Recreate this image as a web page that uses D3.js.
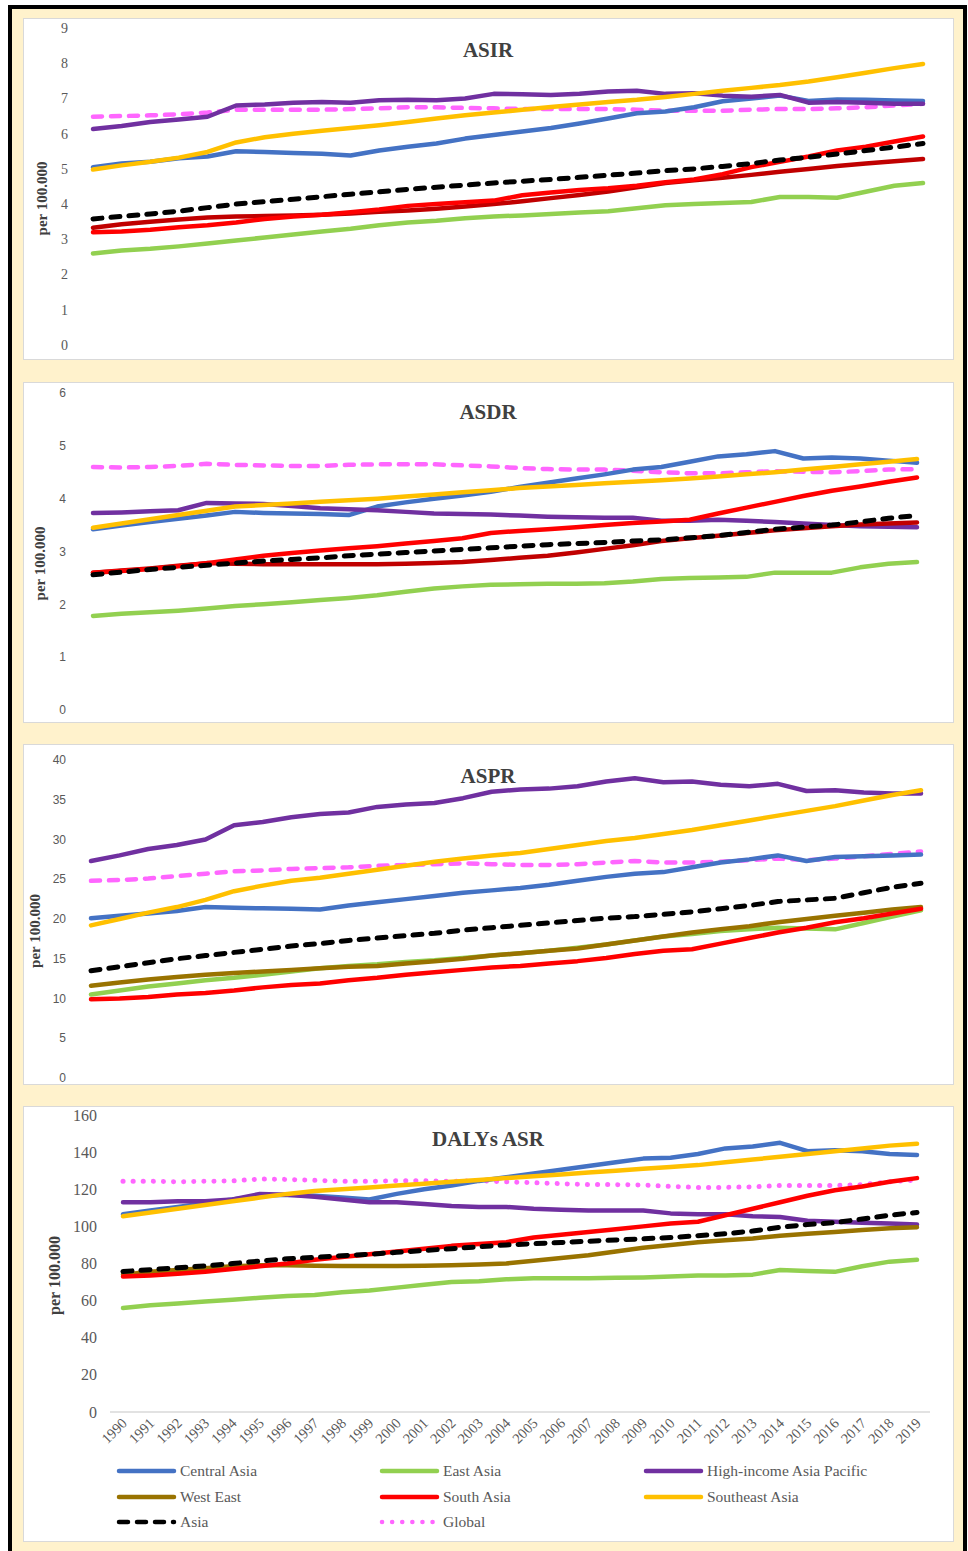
<!DOCTYPE html>
<html>
<head>
<meta charset="utf-8">
<script src="https://cdn.jsdelivr.net/npm/d3@7"></script>
<style>
  body { margin: 0; background: #fff; }
  text { fill: #595959; }
</style>
</head>
<body>
<div id="chart"></div>
<script>
// years on x axis
const years = d3.range(1990, 2020);
const seriesNames = ["Central Asia", "East Asia", "High-income Asia Pacific", "West East", "South Asia", "Southeast Asia", "Asia", "Global"];

// ASIR
const asir = {
  "Central Asia": [5.05,5.15,5.2,5.3,5.35,5.5,5.48,5.45,5.43,5.38,5.52,5.63,5.72,5.86,5.96,6.06,6.16,6.29,6.43,6.58,6.63,6.75,6.92,7.0,7.08,6.93,6.97,6.96,6.94,6.93],
  "East Asia": [2.6,2.68,2.73,2.8,2.88,2.97,3.05,3.14,3.22,3.3,3.4,3.48,3.53,3.6,3.65,3.68,3.72,3.76,3.8,3.88,3.97,4.0,4.03,4.06,4.2,4.2,4.18,4.35,4.52,4.6],
  "High-income Asia Pacific": [6.13,6.22,6.33,6.4,6.48,6.8,6.83,6.88,6.9,6.88,6.95,6.96,6.95,7.0,7.13,7.12,7.1,7.13,7.2,7.22,7.13,7.15,7.08,7.05,7.1,6.88,6.9,6.88,6.85,6.85],
  "West East": [3.33,3.43,3.5,3.56,3.62,3.65,3.66,3.68,3.7,3.73,3.78,3.82,3.87,3.93,4.0,4.08,4.17,4.26,4.36,4.48,4.6,4.68,4.75,4.83,4.92,5.0,5.08,5.15,5.22,5.28],
  "South Asia": [3.2,3.22,3.27,3.34,3.4,3.48,3.58,3.65,3.7,3.77,3.85,3.95,4.0,4.05,4.1,4.25,4.33,4.4,4.45,4.52,4.62,4.7,4.85,5.05,5.2,5.35,5.52,5.63,5.78,5.92],
  "Southeast Asia": [4.98,5.1,5.2,5.32,5.48,5.75,5.9,6.0,6.08,6.16,6.24,6.33,6.43,6.52,6.6,6.68,6.76,6.83,6.9,6.96,7.04,7.13,7.22,7.3,7.38,7.48,7.6,7.73,7.86,7.98],
  "Asia": [3.58,3.65,3.72,3.8,3.9,4.0,4.07,4.14,4.21,4.28,4.35,4.42,4.48,4.54,4.6,4.65,4.7,4.76,4.82,4.88,4.95,5.0,5.07,5.15,5.25,5.33,5.42,5.52,5.62,5.72],
  "Global": [6.48,6.5,6.52,6.55,6.6,6.68,6.68,6.68,6.68,6.7,6.72,6.75,6.75,6.73,6.72,6.7,6.7,6.7,6.7,6.68,6.65,6.65,6.65,6.68,6.7,6.7,6.72,6.75,6.8,6.85]
};

// ASDR
const asdr = {
  "Central Asia": [3.42,3.49,3.56,3.62,3.68,3.75,3.73,3.72,3.71,3.69,3.85,3.93,4.0,4.06,4.13,4.22,4.3,4.38,4.46,4.55,4.6,4.7,4.8,4.84,4.9,4.76,4.78,4.76,4.72,4.68],
  "East Asia": [1.78,1.82,1.85,1.88,1.92,1.97,2.0,2.04,2.08,2.12,2.17,2.24,2.3,2.34,2.37,2.38,2.39,2.39,2.4,2.43,2.48,2.5,2.51,2.52,2.6,2.6,2.6,2.7,2.77,2.8],
  "High-income Asia Pacific": [3.73,3.74,3.76,3.78,3.92,3.91,3.9,3.86,3.82,3.8,3.78,3.75,3.72,3.71,3.7,3.68,3.66,3.65,3.64,3.64,3.58,3.58,3.6,3.58,3.56,3.53,3.5,3.48,3.47,3.46],
  "West East": [2.6,2.64,2.68,2.73,2.78,2.77,2.76,2.76,2.76,2.76,2.76,2.77,2.78,2.8,2.84,2.88,2.92,2.98,3.05,3.12,3.2,3.25,3.3,3.35,3.4,3.44,3.48,3.51,3.53,3.55],
  "South Asia": [2.6,2.63,2.67,2.72,2.78,2.85,2.92,2.97,3.02,3.06,3.1,3.15,3.2,3.25,3.35,3.39,3.42,3.46,3.5,3.54,3.57,3.6,3.72,3.83,3.94,4.05,4.15,4.23,4.32,4.4],
  "Southeast Asia": [3.45,3.53,3.61,3.69,3.77,3.85,3.88,3.91,3.94,3.97,4.0,4.04,4.08,4.12,4.16,4.2,4.23,4.26,4.29,4.32,4.35,4.38,4.42,4.46,4.5,4.55,4.6,4.65,4.7,4.75],
  "Asia": [2.56,2.61,2.66,2.7,2.74,2.78,2.82,2.85,2.88,2.92,2.95,2.98,3.01,3.04,3.07,3.1,3.13,3.15,3.17,3.2,3.22,3.26,3.3,3.36,3.42,3.46,3.5,3.56,3.63,3.68],
  "Global": [4.6,4.59,4.6,4.62,4.66,4.64,4.63,4.62,4.62,4.64,4.65,4.65,4.65,4.63,4.61,4.58,4.56,4.55,4.55,4.53,4.5,4.48,4.48,4.5,4.52,4.51,4.5,4.52,4.55,4.56]
};

// ASPR
const aspr = {
  "Central Asia": [20.1,20.4,20.7,21.0,21.5,21.4,21.35,21.3,21.2,21.7,22.1,22.5,22.9,23.3,23.6,23.9,24.3,24.8,25.3,25.7,25.9,26.5,27.1,27.5,28.0,27.3,27.8,27.9,28.0,28.1],
  "East Asia": [10.5,11.0,11.5,11.9,12.3,12.6,13.0,13.4,13.8,14.1,14.3,14.6,14.8,15.1,15.4,15.7,16.0,16.4,16.8,17.3,17.8,18.1,18.5,18.7,18.9,18.8,18.7,19.5,20.3,21.1],
  "High-income Asia Pacific": [27.3,28.0,28.8,29.3,30.0,31.8,32.2,32.8,33.2,33.4,34.1,34.4,34.6,35.2,36.0,36.3,36.4,36.7,37.3,37.7,37.2,37.3,36.9,36.7,37.0,36.1,36.2,35.9,35.8,35.8],
  "West East": [11.6,12.0,12.4,12.7,13.0,13.2,13.4,13.6,13.8,14.0,14.1,14.4,14.7,15.0,15.4,15.7,16.0,16.3,16.8,17.3,17.8,18.3,18.7,19.1,19.6,20.0,20.4,20.8,21.2,21.5],
  "South Asia": [9.9,10.0,10.2,10.5,10.7,11.0,11.4,11.7,11.9,12.3,12.6,13.0,13.3,13.6,13.9,14.1,14.4,14.7,15.1,15.6,16.0,16.2,16.9,17.6,18.3,18.9,19.6,20.1,20.7,21.3],
  "Southeast Asia": [19.2,20.0,20.8,21.5,22.4,23.5,24.2,24.8,25.2,25.7,26.2,26.7,27.2,27.6,28.0,28.3,28.8,29.3,29.8,30.2,30.7,31.2,31.8,32.4,33.0,33.6,34.2,34.9,35.6,36.2],
  "Asia": [13.5,14.0,14.5,15.0,15.4,15.8,16.2,16.6,16.9,17.3,17.6,17.9,18.2,18.6,18.9,19.2,19.5,19.8,20.1,20.3,20.6,20.9,21.3,21.7,22.2,22.4,22.6,23.3,24.0,24.5],
  "Global": [24.8,24.9,25.1,25.4,25.7,26.0,26.1,26.3,26.4,26.5,26.7,26.8,26.9,27.0,26.9,26.8,26.8,26.9,27.1,27.3,27.1,27.1,27.2,27.4,27.6,27.4,27.6,27.9,28.2,28.5]
};

// DALYs ASR
const dalys = {
  "Central Asia": [106.5,108.5,110.5,112.5,114.5,116.5,117,116.5,115.5,114.5,117.5,120,122,124.5,126.5,128.5,130.5,132.5,134.5,136.5,137,139,142,143,145,140.5,141,140.5,139,138.5],
  "East Asia": [56,57.5,58.5,59.5,60.5,61.5,62.5,63,64.5,65.5,67,68.5,70,70.5,71.5,72,72,72,72.3,72.5,73,73.5,73.5,74,76.5,76,75.5,78.5,81,82],
  "High-income Asia Pacific": [113,113,113.5,113.5,114.5,117.5,117,116,114.5,113,113,112,111,110.5,110.5,109.5,109,108.5,108.5,108.5,107,106.5,106.5,105.5,105,103,102.5,102,101.5,101],
  "West East": [74,75.5,76.5,77.5,78.5,79,79,78.8,78.6,78.6,78.6,78.8,79,79.5,80,81.5,83,84.5,86.5,88.5,90,91.5,92.5,93.5,95,96,97,98,99,99.5],
  "South Asia": [73,73.5,74.5,75.5,77,78.5,80,82,83.5,85,86.5,88,89.5,90.5,91.5,94,95.5,97,98.5,100,101.5,102.5,106,109.5,113,116.5,119.5,121.5,124,126],
  "Southeast Asia": [105.5,107.5,109.5,111.5,113.5,115.5,117.5,119,120,121,122,123,124,125,126,127,128,129,130,131,132,133,134.5,136,137.5,139,140.5,142,143.5,144.5],
  "Asia": [75.7,76.7,77.7,78.7,80,81.3,82.5,83.3,84.2,85,86,87,88,89,90,90.7,91.3,92,92.7,93.3,94,95,96,97.5,99.5,101,102,104,106,107.5],
  "Global": [124.3,124.3,124,124.3,124.5,125.5,125.3,124.8,124.3,124.3,124.6,124.6,124.3,124.6,124,123.5,123,122.5,122.5,122.3,121.5,121,121,121.3,122,122,122,122.5,124,125]
};

const yTicks1 = d3.range(0, 10, 1);
const yTicks2 = d3.range(0, 7, 1);
const yTicks3 = d3.range(0, 45, 5);
const yTicks4 = d3.range(0, 180, 20);

// styles
const colors = {
  "Central Asia": "#4472C4", "East Asia": "#92D050", "High-income Asia Pacific": "#7030A0",
  "West East": "#997300", "South Asia": "#FF0000", "Southeast Asia": "#FFC000",
  "Asia": "#000000", "Global": "#FF66FF"
};

const W = 968, H = 1551;
const svg = d3.select("#chart").append("svg").attr("width", W).attr("height", H);

// outer frame
svg.append("rect").attr("x", 10).attr("y", 7).attr("width", 955).attr("height", 1600)
  .attr("fill", "#FFF2CC").attr("stroke", "#000").attr("stroke-width", 4);

const panels = [
  { data: asir, title: "ASIR", ticks: yTicks1, max: 9, top: 18, bottom: 359, y0: 345, y1: 28, x0: 93, x1: 923,
    tickX: 68, tickFont: "Liberation Serif, serif", tickSize: 14, labX: 47, labSize: 15, titleY: 57, westColor: "#C00000", globalDot: false },
  { data: asdr, title: "ASDR", ticks: yTicks2, max: 6, top: 382, bottom: 722, y0: 710, y1: 393, x0: 93, x1: 917,
    tickX: 66, tickFont: "Liberation Sans, sans-serif", tickSize: 12, labX: 45, labSize: 15, titleY: 419, westColor: "#C00000", globalDot: false },
  { data: aspr, title: "ASPR", ticks: yTicks3, max: 40, top: 744, bottom: 1084, y0: 1078, y1: 760, x0: 91, x1: 921,
    tickX: 66, tickFont: "Liberation Sans, sans-serif", tickSize: 12, labX: 40, labSize: 15, titleY: 783, westColor: null, globalDot: false },
  { data: dalys, title: "DALYs ASR", ticks: yTicks4, max: 160, top: 1106, bottom: 1541, y0: 1412, y1: 1115, x0: 123, x1: 917,
    tickX: 97, tickFont: "Liberation Serif, serif", tickSize: 16, labX: 60, labSize: 16, titleY: 1146, westColor: null, globalDot: true }
];

// draw order: back to front
const drawOrder = ["Global", "East Asia", "Central Asia", "High-income Asia Pacific", "Southeast Asia", "West East", "South Asia", "Asia"];

panels.forEach(p => {
  svg.append("rect").attr("x", 23.5).attr("y", p.top + 0.5).attr("width", 930).attr("height", p.bottom - p.top)
    .attr("fill", "#fff").attr("stroke", "#D9D9D9");

  const x = d3.scaleLinear().domain([1990, 2019]).range([p.x0, p.x1]);
  const y = d3.scaleLinear().domain([0, p.max]).range([p.y0, p.y1]);

  const g = svg.append("g");
  g.selectAll(".ytick").data(p.ticks).enter().append("text")
    .attr("x", p.tickX).attr("y", d => y(d)).attr("dy", "0.35em")
    .attr("text-anchor", "end")
    .style("font-family", p.tickFont).style("font-size", p.tickSize + "px")
    .text(d => d);

  svg.append("text")
    .attr("transform", `translate(${p.labX},${(p.y0 + p.y1) / 2 + 12}) rotate(-90)`)
    .attr("text-anchor", "middle")
    .style("font-family", "Liberation Serif, serif").style("font-weight", "bold")
    .style("font-size", p.labSize + "px").style("fill", "#404040")
    .text("per 100.000");

  svg.append("text").attr("x", 488).attr("y", p.titleY).attr("text-anchor", "middle")
    .style("font-family", "Liberation Serif, serif").style("font-weight", "bold")
    .style("font-size", "21px").style("fill", "#404040")
    .text(p.title);

  if (p.globalDot) {
    svg.append("line").attr("x1", 110).attr("x2", 930).attr("y1", y(0)).attr("y2", y(0))
      .attr("stroke", "#D9D9D9").attr("stroke-width", 1.5);
    svg.selectAll(".xlab").data(years).enter().append("text")
      .attr("transform", d => `translate(${x(d) + 5},${y(0) + 12}) rotate(-45)`)
      .attr("text-anchor", "end")
      .style("font-family", "Liberation Serif, serif").style("font-size", "14.5px")
      .text(d => d);
  }

  const line = d3.line().x((d, i) => x(years[i])).y(d => y(d));

  drawOrder.forEach(name => {
    let color = colors[name];
    if (name === "West East" && p.westColor) color = p.westColor;
    const path = svg.append("path").datum(p.data[name])
      .attr("d", line).attr("fill", "none").attr("stroke", color)
      .attr("stroke-width", 4.5).attr("stroke-linejoin", "round").attr("stroke-linecap", "round");
    if (name === "Asia") path.attr("stroke-dasharray", "9,9").attr("stroke-width", 5);
    if (name === "Global") {
      if (p.globalDot) path.attr("stroke-dasharray", "0.1,10").attr("stroke-width", 5);
      else path.attr("stroke-dasharray", "9,9").attr("stroke-width", 4.5);
    }
  });
});

// legend
const legendPos = [[117, 1471], [380, 1471], [644, 1471], [117, 1497], [380, 1497], [644, 1497], [117, 1522], [380, 1522]];
const legendNames = ["Central Asia", "East Asia", "High-income Asia Pacific", "West East", "South Asia", "Southeast Asia", "Asia", "Global"];
const lg = svg.append("g").selectAll("g").data(legendNames).enter().append("g")
  .attr("transform", (d, i) => `translate(${legendPos[i][0]},${legendPos[i][1]})`);
lg.append("line").attr("x1", 2).attr("x2", 57).attr("y1", 0).attr("y2", 0)
  .attr("stroke", d => colors[d]).attr("stroke-width", 4.5).attr("stroke-linecap", "round")
  .attr("stroke-dasharray", d => d === "Asia" ? "9,9" : d === "Global" ? "0.1,10" : null);
lg.append("text").attr("x", 63).attr("y", 0).attr("dy", "0.35em")
  .style("font-family", "Liberation Serif, serif").style("font-size", "15.5px")
  .text(d => d);
</script>
</body>
</html>
